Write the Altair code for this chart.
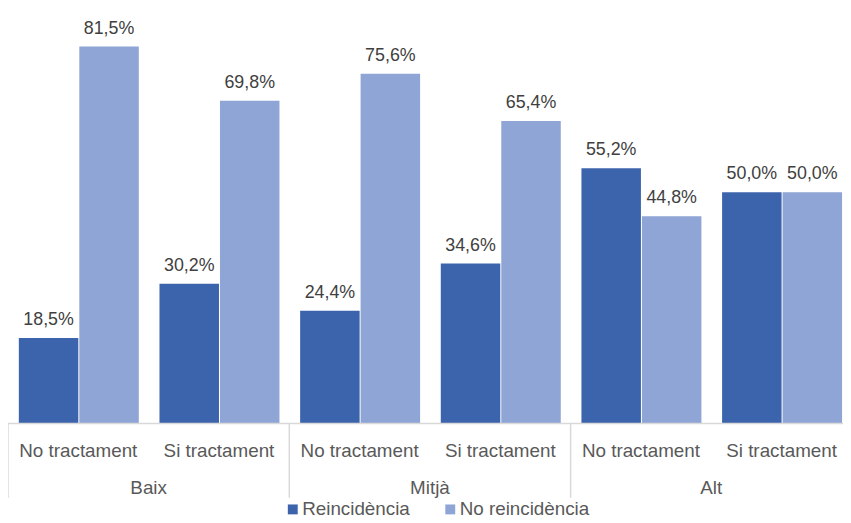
import altair as alt
import pandas as pd

groups = ["Baix", "Mitjà", "Alt"]
treatments = ["No tractament", "Si tractament"]
series = ["Reincidència", "No reincidència"]
reincidencia = [18.5, 30.2, 24.4, 34.6, 55.2, 50.0]
no_reincidencia = [81.5, 69.8, 75.6, 65.4, 44.8, 50.0]
colors = ["#3C64AD", "#8FA5D6"]

FONT = "Liberation Sans"
W = 843          # view width in px
SLOT_PX = 142    # each category slot (reference: last bar runs past the right edge)

rows = []
for i in range(len(groups) * len(treatments)):
    g = groups[i // 2]
    t = treatments[i % 2]
    for si, (ser, vals) in enumerate(zip(series, [reincidencia, no_reincidencia])):
        v = vals[i]
        rows.append({"idx": i, "sidx": si, "group": g, "treat": t, "series": ser,
                     "value": v, "label": f"{v:.1f}".replace(".", ",") + "%"})
df = pd.DataFrame(rows)

cat_df = pd.DataFrame({"idx": list(range(6)),
                       "treat": [treatments[i % 2] for i in range(6)]})
grp_df = pd.DataFrame({"idx": [2 * k + 1 for k in range(len(groups))], "group": groups})
sep_df = pd.DataFrame({"idx": [2 * k for k in range(len(groups))]})
zero_df = pd.DataFrame({"zero": [0]})

xscale = alt.Scale(domain=[0, W / SLOT_PX], nice=False, zero=False)
yscale = alt.Scale(domain=[0, 89.3], range=[417, 0], nice=False, zero=True)

base = alt.Chart(df).transform_calculate(
    x0="datum.idx + 0.077 + datum.sidx * 0.43",
    x1="datum.idx + 0.077 + datum.sidx * 0.43 + 0.423",
    xc="datum.idx + 0.077 + datum.sidx * 0.43 + 0.2115",
    base0="0",
)

bars = base.mark_bar().encode(
    x=alt.X("x0:Q", scale=xscale, axis=None),
    x2="x1:Q",
    y=alt.Y("value:Q", scale=yscale, axis=None),
    y2="base0:Q",
    color=alt.Color("series:N", sort=series,
                    scale=alt.Scale(domain=series, range=colors),
                    legend=alt.Legend(title=None, orient="none", legendX=278, legendY=494,
                                      padding=0,
                                      direction="horizontal", symbolType="square",
                                      symbolSize=100, labelFont=FONT, labelFontSize=19,
                                      labelColor="#595959", labelOffset=0,
                                      columnPadding=31, symbolStrokeWidth=0)),
)

values = base.mark_text(font=FONT, fontSize=18, color="#404040", baseline="alphabetic",
                        dy=-13).encode(
    x=alt.X("xc:Q", scale=xscale, axis=None),
    y=alt.Y("value:Q", scale=yscale, axis=None),
    text="label:N",
)

baseline = alt.Chart(zero_df).mark_rule(color="#D9D9D9", strokeWidth=1.5).encode(
    y=alt.Y("zero:Q", scale=yscale, axis=None),
    x=alt.value(0), x2=alt.value(W),
)

seps = alt.Chart(sep_df).mark_rule(color="#D9D9D9", strokeWidth=1.5).encode(
    x=alt.X("idx:Q", scale=xscale, axis=None),
    y=alt.value(417), y2=alt.value(492),
)

cats = alt.Chart(cat_df).transform_calculate(xc="datum.idx + 0.5").mark_text(
    font=FONT, fontSize=19, color="#595959", baseline="alphabetic").encode(
    x=alt.X("xc:Q", scale=xscale, axis=None),
    y=alt.value(451),
    text="treat:N",
)

grps = alt.Chart(grp_df).mark_text(font=FONT, fontSize=19, color="#595959",
                                   baseline="alphabetic").encode(
    x=alt.X("idx:Q", scale=xscale, axis=None),
    y=alt.value(488),
    text="group:N",
)

chart = alt.layer(bars, values, baseline, seps, cats, grps).properties(
    width=W, height=515, padding=0,
    autosize=alt.AutoSizeParams(type="none"),
).configure_view(stroke=None)

chart.save("out.html", embed_options={"renderer": "svg", "actions": False})
